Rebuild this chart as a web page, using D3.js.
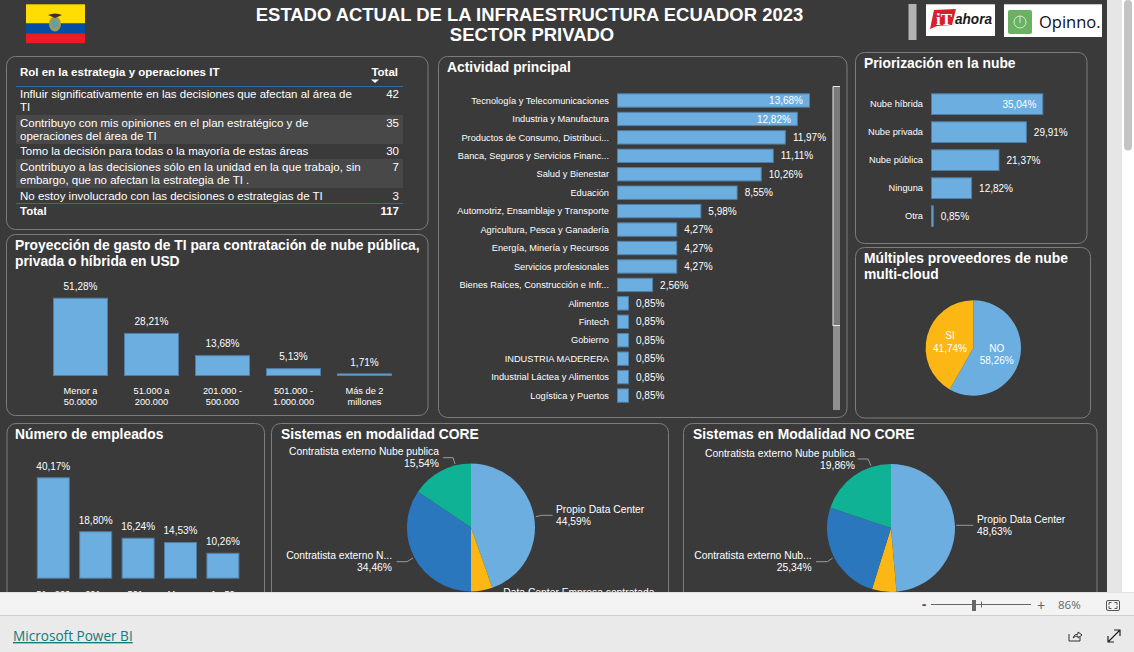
<!DOCTYPE html>
<html><head><meta charset="utf-8">
<script src="https://cdnjs.cloudflare.com/ajax/libs/d3/7.8.5/d3.min.js"></script>
<style>html,body{margin:0;padding:0;background:#3a3a3a;overflow:hidden}svg{display:block}text{font-family:"Liberation Sans",Arial,sans-serif}</style>
</head><body><div id="c"></div>
<script>
const roleRows=["Influir significativamente en las decisiones que afectan al área de|TI","Contribuyo con mis opiniones en el plan estratégico y de|operaciones del área de TI","Tomo la decisión para todas o la mayoría de estas áreas","Contribuyo a las decisiones sólo en la unidad en la que trabajo, sin|embargo, que no afectan la estrategia de TI .","No estoy involucrado con las decisiones o estrategias de TI"];
const roleTotals=[42,35,30,7,3];
const activityCats=["Tecnología y Telecomunicaciones","Industria y Manufactura","Productos de Consumo, Distribuci...","Banca, Seguros y Servicios Financ...","Salud y Bienestar","Eduación","Automotriz, Ensamblaje y Transporte","Agricultura, Pesca y Ganadería","Energía, Minería y Recursos","Servicios profesionales","Bienes Raíces, Construcción e Infr...","Alimentos","Fintech","Gobierno","INDUSTRIA MADERERA","Industrial Láctea y Alimentos","Logística y Puertos"];
const activityVals=[13.68,12.82,11.97,11.11,10.26,8.55,5.98,4.27,4.27,4.27,2.56,0.85,0.85,0.85,0.85,0.85,0.85];
const cloudCats=["Nube híbrida","Nube privada","Nube pública","Ninguna","Otra"];
const cloudVals=[35.04,29.91,21.37,12.82,0.85];
const spendCats=["Menor a|50.0000","51.000 a|200.000","201.000 -|500.000","501.000 -|1.000.000","Más de 2|millones"];
const spendVals=[51.28,28.21,13.68,5.13,1.71];
const staffCats=["51 - 200","201 -","501 -","Menor","1 - 50"];
const staffVals=[40.17,18.80,16.24,14.53,10.26];
const multiCats=["NO","SI"];
const multiVals=[58.26,41.74];
const coreCats=["Propio Data Center","Data Center Empresa contratada","Contratista externo N...","Contratista externo Nube publica"];
const coreVals=[44.59,5.41,34.46,15.54];
const nonCoreCats=["Propio Data Center","Data Center Empresa contratada","Contratista externo Nub...","Contratista externo Nube publica"];
const nonCoreVals=[48.63,6.17,25.34,19.86];

const BLUE="#6daee0",EDGE="#4f7ea6",pieCols=["#6daee0","#fdb714","#2a77bd","#0fb294"];
const fmt=v=>v.toFixed(2).replace(".",",")+"%";
const svg=d3.select("#c").append("svg").attr("width",1134).attr("height",652);
const R=(x,y,w,h,c)=>svg.append("rect").attr("x",x).attr("y",y).attr("width",w).attr("height",h).attr("fill",c);
function T(x,y,s,o={}){const t=svg.append("text").attr("x",x).attr("y",y).text(s).attr("fill",o.c||"#fff").attr("font-size",o.f||9.5).attr("font-weight",o.w||400).attr("text-anchor",o.a||"start");if(o.ff)t.style("font-family",o.ff);return t;}
function panel(x,y,w,h){svg.append("rect").attr("x",x+.5).attr("y",y+.5).attr("width",w).attr("height",h).attr("rx",9).attr("fill","none").attr("stroke","#7d7c7b");}
function band(cats,start,step,size){const p=1-size/step,r0=start-(step-size)/2;return d3.scaleBand().domain(cats).range([r0,r0+step*cats.length]).paddingInner(p).paddingOuter(p/2);}
const H=13.85,LBL=9.25,VAL=10,PL=10.3,ROW=11.5;

R(0,0,1134,652,"#3a3a3a");

// header
T(529.5,21,"ESTADO ACTUAL DE LA INFRAESTRUCTURA ECUADOR 2023",{f:18.45,w:700,a:"middle"});
T(532,41,"SECTOR PRIVADO",{f:18.45,w:700,a:"middle"});
R(26,4.3,59,19.2,"#ffdd00");R(26,23.5,59,10,"#034ea2");R(26,33.5,59,9.7,"#ed1c24");
svg.append("ellipse").attr("cx",55).attr("cy",24).attr("rx",6).attr("ry",7.5).attr("fill","#9a9a5a");
svg.append("ellipse").attr("cx",55).attr("cy",24).attr("rx",3).attr("ry",4).attr("fill","#5f9fb0");
svg.append("path").attr("d","M48 15 Q55 12 62 15 L55 18Z").attr("fill","#3a3320");
R(908.5,4,8,36,"#b3b3b3");
R(926,4.3,69,31.7,"#fff");
svg.append("path").attr("d","M934 10 L956 9 L952 25 L937 26 L930 29 Z").attr("fill","#d8202a");
T(936,25,"iT",{f:17,w:700,ff:"'Liberation Serif'"});
T(955,24,"ahora",{f:15,w:700,c:"#1a1a1a"}).attr("font-style","italic").attr("textLength",37).attr("lengthAdjust","spacingAndGlyphs");
R(1004,4.3,98,32.7,"#fff");
svg.append("rect").attr("x",1008).attr("y",10).attr("width",24).attr("height",24).attr("rx",2).attr("fill","#69b261");
svg.append("circle").attr("cx",1020).attr("cy",22).attr("r",6).attr("fill","none").attr("stroke","#d9ecd6");
svg.append("line").attr("x1",1020).attr("x2",1020).attr("y1",16).attr("y2",23).attr("stroke","#d9ecd6");
T(1039,28,"Opinno.",{f:16.5,c:"#111",ff:"'Open Sans'"});

// table
panel(6,56,421.5,173);
T(20,76,"Rol en la estrategia y operaciones IT",{f:ROW,w:700});
T(398,76,"Total",{f:ROW,w:700,a:"end"});
svg.append("path").attr("d","M371 79.5h8l-4 3.5z").attr("fill","#fff");
const rowBases=[[98,110.7],[127,140],[155],[171,184],[200]];
R(16,115,387,29,"#484848");R(16,159,387,29,"#484848");
roleRows.forEach((r,i)=>{r.split("|").forEach((l,j)=>T(20,rowBases[i][j],l,{f:ROW}));T(399,rowBases[i][0],roleTotals[i],{f:ROW,a:"end"});});
svg.append("line").attr("x1",16).attr("x2",403).attr("y1",86.5).attr("y2",86.5).attr("stroke","#2a6aa8");
svg.append("line").attr("x1",16).attr("x2",403).attr("y1",203.5).attr("y2",203.5).attr("stroke","#2a6aa8");
T(20,214.5,"Total",{f:ROW,w:700});
T(399,214.5,d3.sum(roleTotals),{f:ROW,w:700,a:"end"});

// horizontal bars
function hbars(cats,vals,x0,pxMax,vMax,y,inside){
  const x=d3.scaleLinear().domain([0,vMax]).range([x0,x0+pxMax]);
  cats.forEach((c,i)=>{
    const yy=y(c),h=y.bandwidth();
    svg.append("rect").attr("x",x(0)+.5).attr("y",yy+.5).attr("width",x(vals[i])-x(0)-1).attr("height",h-1).attr("fill",BLUE).attr("stroke",EDGE);
    T(x0-8,yy+h/2+3.2,c,{f:LBL,a:"end"});
    if(i<inside) T(x(vals[i])-7,yy+h/2+3.6,fmt(vals[i]),{f:VAL,a:"end"});
    else T(x(vals[i])+7,yy+h/2+3.6,fmt(vals[i]),{f:VAL});
  });
}
panel(438,56,408.5,361);
T(447,72,"Actividad principal",{f:H,w:700});
hbars(activityCats,activityVals,617,193,13.68,band(activityCats,93.3,18.44,14.4),2);
R(833,86,7,240,"#7a7a7a");R(833,326,7,84,"#8f8f8f");
svg.append("path").attr("d","M833 326V86.5H840").attr("fill","none").attr("stroke","#e8e8e8");
svg.append("line").attr("x1",833).attr("x2",840).attr("y1",325.5).attr("y2",325.5).attr("stroke","#e8e8e8");

panel(855,52,231.5,191);
T(864,68,"Priorización en la nube",{f:H,w:700});
hbars(cloudCats,cloudVals,931,112.3,35.04,band(cloudCats,93.3,28,21.7),1);

// multi-cloud pie
function pie(vals,cx,cy,r,cols){
  const arcs=d3.pie().sort(null)(vals),arc=d3.arc().innerRadius(0).outerRadius(r);
  const g=svg.append("g").attr("transform",`translate(${cx},${cy})`);
  g.selectAll("path").data(arcs).join("path").attr("d",arc).attr("fill",(d,i)=>cols[i]);
}
panel(855,247,235,170.5);
T(864,263,"Múltiples proveedores de nube",{f:H,w:700});
T(864,278.5,"multi-cloud",{f:H,w:700});
pie(multiVals,973.3,348,47.7,pieCols);
T(996.7,352,multiCats[0],{f:VAL,a:"middle"});T(996.7,364,fmt(multiVals[0]),{f:VAL,a:"middle"});
T(950,339,multiCats[1],{f:VAL,a:"middle"});T(950,352,fmt(multiVals[1]),{f:VAL,a:"middle"});

// vertical bars
function vbars(cats,vals,x,y,fl){
  cats.forEach((c,i)=>{
    const xx=x(c),w=x.bandwidth(),top=y(vals[i]);
    svg.append("rect").attr("x",xx+.5).attr("y",top+.5).attr("width",w-1).attr("height",y(0)-top-1).attr("fill",BLUE).attr("stroke",EDGE);
    T(xx+w/2,top-7.7,fmt(vals[i]),{f:VAL,a:"middle"});
    c.split("|").forEach((l,j)=>T(xx+w/2,fl+j*11,l,{f:LBL,a:"middle"}));
  });
}
panel(6,234,421.5,181);
T(15,250,"Proyección de gasto de TI para contratación de nube pública,",{f:H,w:700});
T(15,266,"privada o híbrida en USD",{f:H,w:700});
vbars(spendCats,spendVals,band(spendCats,53,71,55),d3.scaleLinear().domain([0,51.28]).range([376,297.7]),394);

panel(6.5,423,257.5,200);
T(15,439,"Número de empleados",{f:H,w:700});
vbars(staffCats,staffVals,band(staffCats,36.8,42.4,33),d3.scaleLinear().domain([0,40.17]).range([578.7,477.3]),597);

// labelled pies
function leader(p){svg.append("path").attr("d",d3.line()(p)).attr("fill","none").attr("stroke","#9a9a9a");}
panel(271,423,397,200);
T(281,438.5,"Sistemas en modalidad CORE",{f:H,w:700});
pie(coreVals,471,527.5,64,pieCols);
T(439,455,coreCats[3],{f:PL,a:"end"});T(439,467,fmt(coreVals[3]),{f:PL,a:"end"});
leader([[443,457.7],[453,457.7],[455,464]]);
T(392,559,coreCats[2],{f:PL,a:"end"});T(392,571,fmt(coreVals[2]),{f:PL,a:"end"});
leader([[396.5,561.7],[407,561.7],[413,558]]);
T(556,512.7,coreCats[0],{f:PL});T(556,524.7,fmt(coreVals[0]),{f:PL});
leader([[535.7,516.7],[541.7,515.3],[552.7,515.3]]);
T(503.3,595.5,coreCats[1],{f:PL});

panel(683,423,413.5,200);
T(693,438.5,"Sistemas en Modalidad NO CORE",{f:H,w:700});
pie(nonCoreVals,891,528,64,pieCols);
T(855,456.7,nonCoreCats[3],{f:PL,a:"end"});T(855,468.7,fmt(nonCoreVals[3]),{f:PL,a:"end"});
leader([[857.7,459],[868,459],[871,465.7]]);
T(811.7,559,nonCoreCats[2],{f:PL,a:"end"});T(811.7,571,fmt(nonCoreVals[2]),{f:PL,a:"end"});
leader([[816,561.7],[827.3,561.7],[832.7,558]]);
T(977,523,nonCoreCats[0],{f:PL});T(977,535,fmt(nonCoreVals[0]),{f:PL});
leader([[956,525.3],[973.3,525.3]]);

// viewer chrome
R(1107,0,15,592,"#e6e6e6");R(1122,0,12,592,"#fff");
svg.append("rect").attr("x",1124).attr("y",0).attr("width",8).attr("height",150.5).attr("rx",4).attr("fill","#c4c4c4");
R(0,592,1134,23,"#f3f3f3");R(0,592,1134,1,"#e2e2e2");R(0,615,1134,1,"#cfcfcf");R(0,616,1134,36,"#eaeaea");
T(13,641,"Microsoft Power BI",{f:13.6,c:"#117a7a",ff:"'Open Sans'"}).attr("text-decoration","underline");
T(924,609,"-",{f:14,w:700,c:"#555",a:"middle"});
R(931,604,100,1,"#666");R(972,600,4,11,"#666");R(981,601.5,1,6,"#666");
T(1041,610,"+",{f:14,c:"#666",a:"middle"});
T(1058,609,"86%",{f:11.5,c:"#666",ff:"'Open Sans'"});
svg.append("rect").attr("x",1106.5).attr("y",600.5).attr("width",13).attr("height",10).attr("rx",1.5).attr("fill","none").attr("stroke","#555");
svg.append("path").attr("d","M1109 605v-2.5h2.5M1114.5 602.5h2.5v2.5M1117 606v2.5h-2.5M1111.5 608.5h-2.5v-2.5").attr("fill","none").attr("stroke","#555");
svg.append("path").attr("d","M1069 634v7h11v-4M1073 638q1-4 5-4v-2l4 3-4 3v-2q-3 0-5 2z").attr("fill","none").attr("stroke","#333");
svg.append("path").attr("d","M1108 642l12-12M1114 630h6v6M1108 636v6h6").attr("fill","none").attr("stroke","#222").attr("stroke-width",1.2);
</script></body></html>
